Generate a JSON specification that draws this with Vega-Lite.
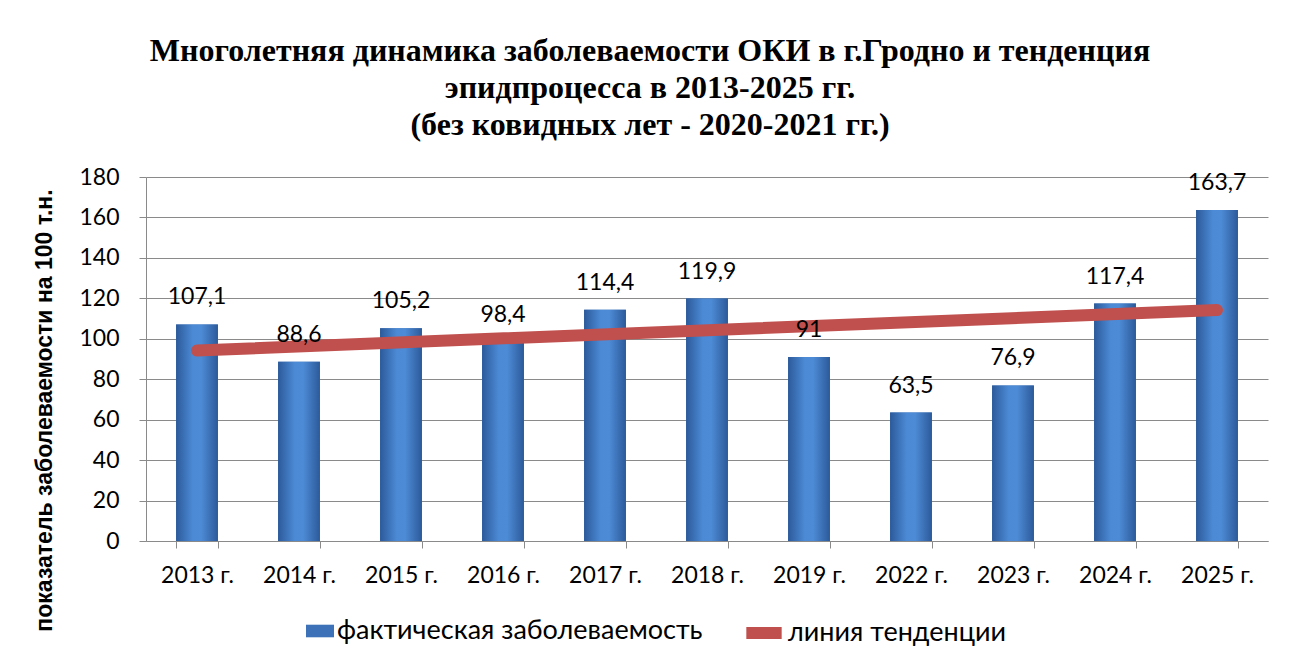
{
  "$schema": "https://vega.github.io/schema/vega-lite/v6.json",
  "width": 1122,
  "height": 364,
  "autosize": {"type": "none"},
  "padding": {"left": 146, "top": 177, "right": 21, "bottom": 123},
  "background": "white",
  "config": {
    "locale": {"number": {"decimal": ",", "thousands": " ", "grouping": [3], "currency": ["", ""]}},
    "view": {"stroke": null},
    "font": "Lato"
  },
  "title": {
    "text": ["Многолетняя динамика заболеваемости ОКИ в г.Гродно и тенденция", "эпидпроцесса в 2013-2025 гг.", "(без  ковидных лет - 2020-2021 гг.)"],
    "font": "Liberation Serif",
    "fontSize": 32,
    "fontWeight": "bold",
    "color": "black",
    "anchor": "middle",
    "dx": -57,
    "offset": 24,
    "lineHeight": 37
  },
  "datasets": {
    "bars": [
      {"год": "2013 г.", "значение": 107.1},
      {"год": "2014 г.", "значение": 88.6},
      {"год": "2015 г.", "значение": 105.2},
      {"год": "2016 г.", "значение": 98.4},
      {"год": "2017 г.", "значение": 114.4},
      {"год": "2018 г.", "значение": 119.9},
      {"год": "2019 г.", "значение": 91},
      {"год": "2022 г.", "значение": 63.5},
      {"год": "2023 г.", "значение": 76.9},
      {"год": "2024 г.", "значение": 117.4},
      {"год": "2025 г.", "значение": 163.7}
    ],
    "trend": [
      {"год": "2013 г.", "значение": 94.2},
      {"год": "2025 г.", "значение": 114.2}
    ]
  },
  "encoding": {
    "x": {
      "field": "год",
      "type": "nominal",
      "sort": null,
      "scale": {"paddingInner": 0.59, "paddingOuter": 0.295},
      "axis": {
        "title": null,
        "labelAngle": 0,
        "tickBand": "extent",
        "domainColor": "#8a8a8a",
        "tickColor": "#8a8a8a",
        "tickSize": 7,
        "labelFontSize": 23,
        "labelFont": "Lato",
        "labelColor": "black",
        "labelPadding": 16
      }
    },
    "y": {
      "field": "значение",
      "type": "quantitative",
      "scale": {"domain": [0, 180], "nice": false},
      "axis": {
        "values": [0, 20, 40, 60, 80, 100, 120, 140, 160, 180],
        "grid": true,
        "gridColor": "#8a8a8a",
        "domainColor": "#8a8a8a",
        "tickColor": "#8a8a8a",
        "tickSize": 7,
        "labelFontSize": 23,
        "labelFont": "Lato",
        "labelColor": "black",
        "labelPadding": 20,
        "title": "показатель заболеваемости на 100 т.н.",
        "titleFont": "Liberation Sans",
        "titleFontSize": 23,
        "titleFontWeight": "bold",
        "titleColor": "black",
        "titleX": -90,
        "titleY": 233
      }
    }
  },
  "layer": [
    {
      "data": {"name": "bars"},
      "mark": {"type": "bar"},
      "encoding": {
        "fill": {
          "datum": "фактическая заболеваемость",
          "scale": {"range": ["#3D72B8"]},
          "legend": {
            "orient": "none",
            "legendX": 160,
            "legendY": 440,
            "title": null,
            "symbolType": "M-1,-0.45H1V0.45H-1Z",
            "symbolSize": 784,
            "symbolStrokeWidth": 0,
            "labelFontSize": 27,
            "labelFont": "Lato",
            "labelColor": "black",
            "labelOffset": 3,
            "labelLimit": 0
          }
        }
      }
    },
    {
      "data": {"name": "bars"},
      "mark": {
        "type": "bar",
        "fill": {
          "gradient": "linear",
          "x1": 0, "x2": 1, "y1": 0, "y2": 0,
          "stops": [
            {"offset": 0, "color": "#2C5A9A"},
            {"offset": 0.4, "color": "#4C8AD6"},
            {"offset": 0.6, "color": "#4D8BD6"},
            {"offset": 1, "color": "#2C5A9A"}
          ]
        }
      }
    },
    {
      "data": {"name": "trend"},
      "mark": {"type": "line", "strokeWidth": 12, "strokeCap": "round"},
      "encoding": {
        "stroke": {
          "datum": "линия тенденции",
          "scale": {"range": ["#C0504D"]},
          "legend": {
            "orient": "none",
            "legendX": 594,
            "legendY": 432,
            "title": null,
            "symbolType": "stroke",
            "symbolStrokeWidth": 12,
            "symbolSize": 1250,
            "labelFontSize": 27,
            "labelFont": "Lato",
            "labelColor": "black",
            "labelOffset": 0,
            "labelLimit": 0
          }
        }
      }
    },
    {
      "data": {"name": "bars"},
      "mark": {"type": "text", "baseline": "bottom", "dy": -15, "fontSize": 23, "font": "Lato", "color": "black"},
      "encoding": {
        "text": {"field": "значение", "type": "quantitative", "format": ".1~f"}
      }
    }
  ]
}
